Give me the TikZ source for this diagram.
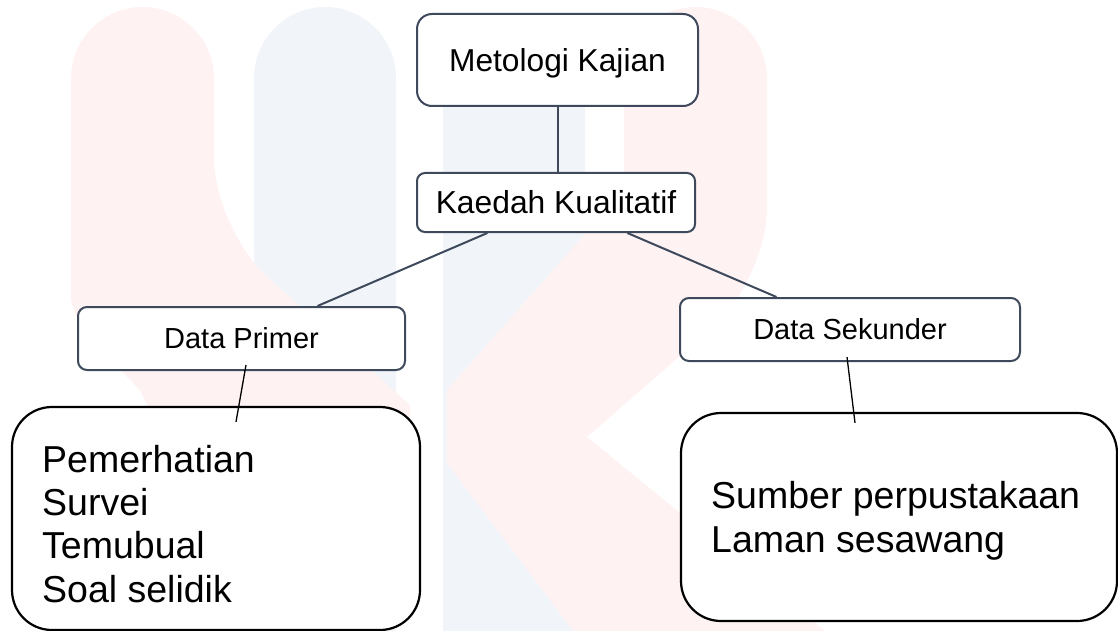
\documentclass[tikz,border=0pt]{standalone}
\usepackage{fontspec}
\setmainfont{Liberation Sans}
\usetikzlibrary{calc}
\definecolor{wmpink}{RGB}{254,242,242}
\definecolor{wmblue}{RGB}{241,245,249}
\definecolor{slate}{RGB}{62,74,92}
\begin{document}
\begin{tikzpicture}[x=1pt,y=-1pt,
  topbox/.style={draw=slate, line width=2pt, fill=white, inner sep=0pt, rounded corners=#1},
  bigbox/.style={draw=black, line width=2.2pt, fill=white, inner sep=0pt, rounded corners=40pt},
  conn/.style={draw=slate, line width=2pt},
  thinconn/.style={draw=black, line width=1.3pt},
  bigtext/.style={anchor=base west, align=left, inner sep=0pt, font=\fontsize{37.5}{43.3}\selectfont}]
\useasboundingbox (0,0) rectangle (1118,631);
\begin{scope}
\clip (0,0) rectangle (1118,631);
% watermark
\fill[wmblue] (254,640) [rounded corners=71pt] -- (254,7) -- (396,7) [sharp corners] -- (396,640) -- cycle;
\fill[wmblue] (443,640) [rounded corners=71pt] -- (443,14) -- (585,14) [sharp corners] -- (585,640) -- cycle;
\fill[wmpink] (71,300) [rounded corners=71.5pt] -- (71,7) -- (214,7) -- (214,229) [sharp corners] -- (410,405) -- (410,620) -- (250,620) -- (140,390) .. controls (80,330) .. (71,300) -- cycle;
\fill[wmpink] (624,190) [rounded corners=71.5pt] -- (624,7) -- (767,7) -- (767,280) [sharp corners] -- (587,437) -- (836,640) -- (580,640) -- (447,463) -- (447,390) -- cycle;
\end{scope}
% boxes
\node[topbox=15pt, minimum width=281pt, minimum height=92pt, text height=22.7pt, text depth=0pt, font=\fontsize{31.7}{38}\selectfont] (met) at (557.5,60) {Metologi Kajian};
\node[topbox=8pt, minimum width=278pt, minimum height=59pt, text height=22.7pt, text depth=0pt, font=\fontsize{31.8}{38}\selectfont] (kae) at (556,202.5) {Kaedah Kualitatif};
\node[topbox=9pt, minimum width=327pt, minimum height=63pt, text height=20.8pt, text depth=0pt, font=\fontsize{29}{35}\selectfont] (dp) at (241.5,338.5) {Data Primer};
\node[topbox=9pt, minimum width=340pt, minimum height=63pt, text height=20.8pt, text depth=0pt, font=\fontsize{29}{35}\selectfont] (ds) at (850,329.5) {Data Sekunder};
\node[bigbox, minimum width=408pt, minimum height=223pt] (lbig) at (216,518.5) {};
\node[bigbox, minimum width=436pt, minimum height=208pt] (rbig) at (899,517) {};
\node[bigtext] (ltext) at (42,602) {Pemerhatian\\Survei\\Temubual\\Soal selidik};
\node[bigtext] (rtext) at (711,552) {Sumber perpustakaan\\Laman sesawang};
% connectors
\draw[conn] (met.south) -- (met.south |- kae.north);
\draw[conn] ($(kae.south west)!0.255!(kae.south east)$) -- ($(dp.north west)!0.731!(dp.north east)$);
\draw[conn] ($(kae.south west)!0.755!(kae.south east)$) -- ($(ds.north west)!0.285!(ds.north east)$);
\coordinate (dpin) at ($(dp.south)+(4.5,-6)$);
\coordinate (lbin) at ($(lbig.north)+(20,16)$);
\coordinate (dsin) at ($(ds.south)+(-3,-5)$);
\coordinate (rbin) at ($(rbig.north)+(-44,11)$);
\draw[thinconn] (dpin) -- (lbin);
\draw[thinconn] (dsin) -- (rbin);
\end{tikzpicture}
\end{document}
